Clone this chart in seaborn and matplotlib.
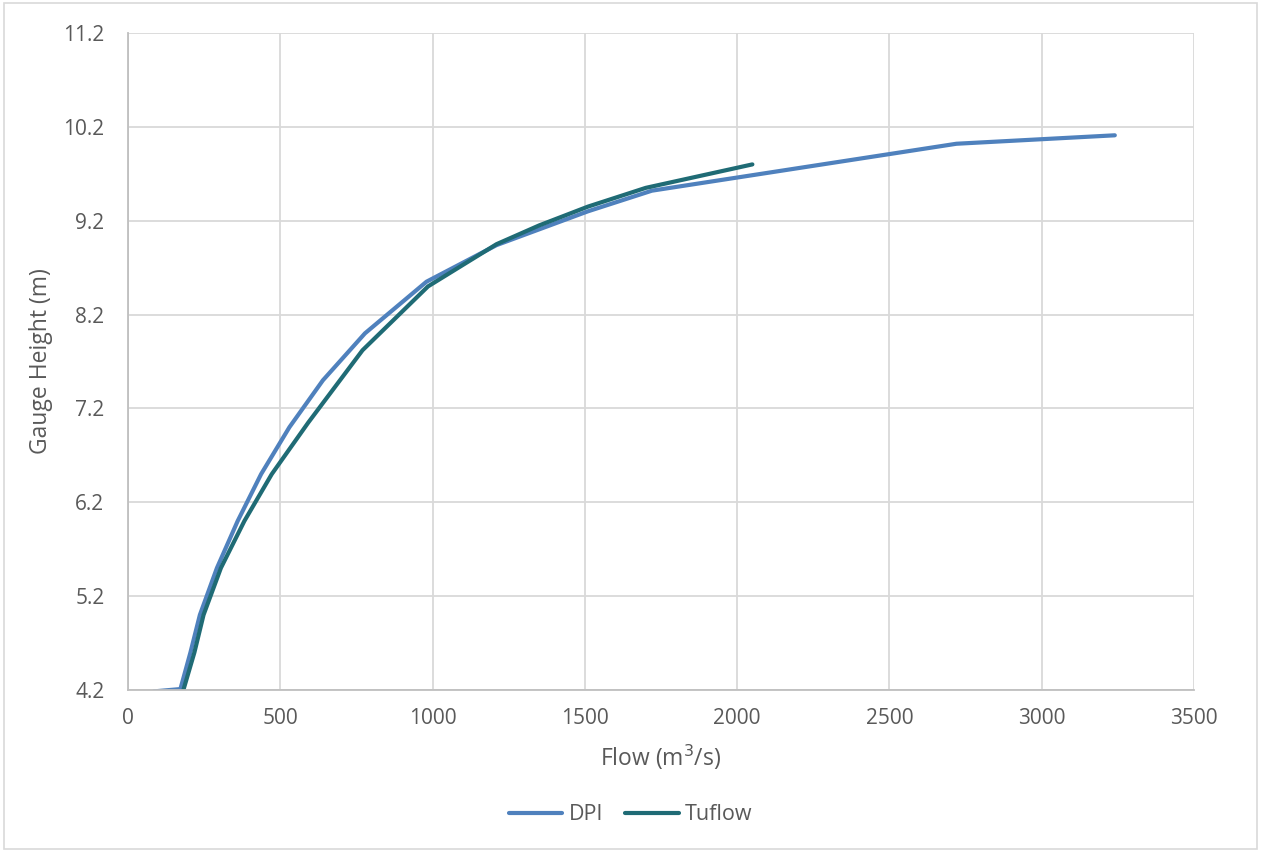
import matplotlib
matplotlib.use("Agg")
import matplotlib.pyplot as plt
import seaborn as sns
import pandas as pd
from matplotlib.patches import Rectangle

dpi_flow = [85, 172, 205, 236, 292, 360, 437, 530, 640, 778, 980, 1210, 1510, 1720, 2720, 3240]
dpi_height = [4.185, 4.21, 4.6, 5.0, 5.5, 6.0, 6.5, 7.0, 7.5, 8.0, 8.55, 8.94, 9.3, 9.52, 10.02, 10.11]

tuf_flow = [180, 218, 248, 305, 382, 472, 592, 770, 985, 1210, 1350, 1510, 1700, 2050]
tuf_height = [4.18, 4.6, 5.0, 5.5, 6.0, 6.5, 7.05, 7.82, 8.5, 8.95, 9.15, 9.35, 9.55, 9.8]

series_names = ["DPI", "Tuflow"]
colors = ["#4f81bd", "#1f6b75"]

df = pd.concat([
    pd.DataFrame({"Flow": dpi_flow, "Height": dpi_height, "Series": series_names[0]}),
    pd.DataFrame({"Flow": tuf_flow, "Height": tuf_height, "Series": series_names[1]}),
], ignore_index=True)

sns.set_theme(style="white")
plt.rcParams['font.family'] = ['Open Sans', 'DejaVu Sans']

fig = plt.figure(figsize=(12.61, 8.52), dpi=100)
ax = fig.add_axes([128/1261, 1-690/852, (1194-128)/1261, (690-33)/852])

sns.lineplot(data=df, x="Flow", y="Height", hue="Series", palette=colors,
             sort=False, estimator=None, linewidth=3, ax=ax)

ax.set_xlim(0, 3500)
ax.set_ylim(4.2, 11.2)
ax.set_xticks(range(0, 3501, 500))
yt = [4.2 + i for i in range(8)]
ax.set_yticks(yt)
ax.set_yticklabels([f"{v:.1f}" for v in yt])
ax.grid(True, color="#d9d9d9", linewidth=1.3)
ax.set_axisbelow(True)
for s in ["top", "right"]:
    ax.spines[s].set_visible(False)
for s in ["left", "bottom"]:
    ax.spines[s].set_color("#bfbfbf")
    ax.spines[s].set_linewidth(1.3)
ax.tick_params(axis="x", colors="#595959", labelsize=15, length=0, pad=13)
ax.tick_params(axis="y", colors="#595959", labelsize=15, length=0, pad=17)
ax.set_xlabel("Flow (m$^3$/s)", fontsize=16.5, color="#595959", labelpad=10)
ax.set_ylabel("Gauge Height (m)", fontsize=16.5, color="#595959", labelpad=7)

handles, labels = ax.get_legend_handles_labels()
ax.legend(handles, labels, loc="center", bbox_to_anchor=(0.5, 1-815/852), bbox_transform=fig.transFigure,
          ncol=2, frameon=False, fontsize=15.5, labelcolor="#595959", handlelength=2.5,
          columnspacing=1.0, handletextpad=0.3)

fig.patches.append(Rectangle((0.003, 0.003), 0.994, 0.994, transform=fig.transFigure,
                             fill=False, edgecolor="#d9d9d9", linewidth=1.2))

fig.savefig("out.png", dpi=100, facecolor="white")
